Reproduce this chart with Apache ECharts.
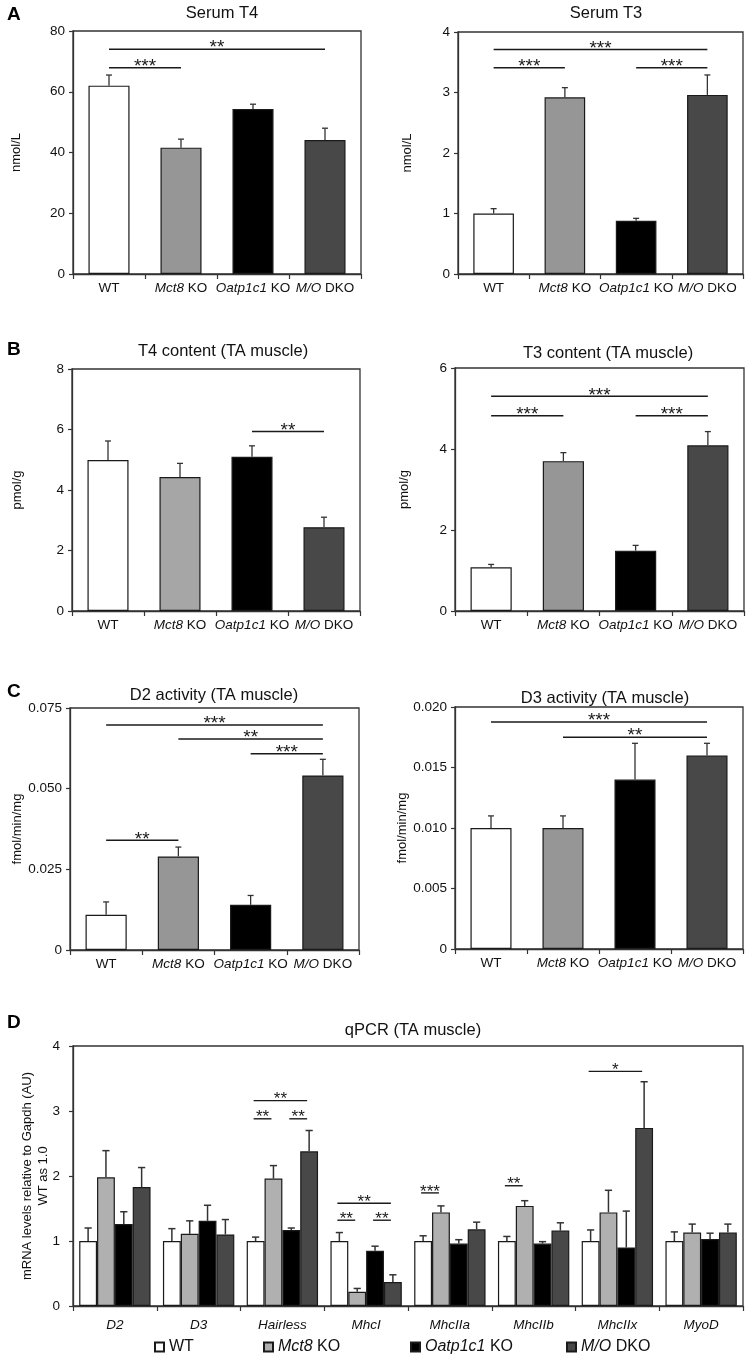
<!DOCTYPE html>
<html><head><meta charset="utf-8">
<script src="https://cdn.jsdelivr.net/npm/echarts@6/dist/echarts.min.js"></script>
<style>html,body{margin:0;padding:0;background:#fff}#c{width:747px;height:1365px}</style>
</head><body><div id="c"></div>
<script>
// ---------- data ----------
const CATS = ['WT', 'Mct8 KO', 'Oatp1c1 KO', 'M/O DKO'];

const serumT4 = [62.0, 41.6, 54.3, 44.1];
const serumT4Err = [65.5, 44.4, 55.9, 48.0];
const serumT4Sig = [[0, 1, 67.9, '***'], [0, 3, 74.0, '**']];

const serumT3 = [1.00, 2.92, 0.88, 2.96];
const serumT3Err = [1.08, 3.08, 0.92, 3.29];
const serumT3Sig = [[0, 3, 3.71, '***'], [0, 1, 3.41, '***'], [2, 3, 3.41, '***']];

const t4Content = [4.99, 4.43, 5.10, 2.77];
const t4ContentErr = [5.62, 4.88, 5.46, 3.10];
const t4ContentSig = [[2, 3, 5.93, '**']];

const t3Content = [1.08, 3.70, 1.49, 4.09];
const t3ContentErr = [1.15, 3.91, 1.62, 4.43];
const t3ContentSig = [[0, 3, 5.30, '***'], [0, 1, 4.82, '***'], [2, 3, 4.82, '***']];

const d2Activity = [0.0109, 0.0290, 0.0140, 0.0541];
const d2ActivityErr = [0.0149, 0.0319, 0.0169, 0.0591];
const d2ActivitySig = [[0, 3, 0.0697, '***'], [1, 3, 0.0654, '**'], [2, 3, 0.0608, '***'], [0, 1, 0.0340, '**']];

const d3Activity = [0.0100, 0.0100, 0.0140, 0.0160];
const d3ActivityErr = [0.0110, 0.0110, 0.0170, 0.0170];
const d3ActivitySig = [[0, 3, 0.01876, '***'], [1, 3, 0.0175, '**']];

const GENES = ['D2', 'D3', 'Hairless', 'MhcI', 'MhcIIa', 'MhcIIb', 'MhcIIx', 'MyoD'];
const qWT      = [1.00, 1.00, 1.00, 1.00, 1.00, 1.00, 1.00, 1.00];
const qWTErr   = [1.20, 1.19, 1.06, 1.13, 1.08, 1.07, 1.17, 1.14];
const qMct8    = [1.98, 1.11, 1.96, 0.22, 1.44, 1.54, 1.44, 1.13];
const qMct8Err = [2.39, 1.31, 2.16, 0.27, 1.54, 1.62, 1.78, 1.26];
const qOatp    = [1.26, 1.31, 1.17, 0.85, 0.96, 0.96, 0.90, 1.03];
const qOatpErr = [1.45, 1.55, 1.20, 0.92, 1.02, 0.99, 1.46, 1.12];
const qDKO     = [1.83, 1.10, 2.38, 0.37, 1.18, 1.16, 2.74, 1.13];
const qDKOErr  = [2.13, 1.33, 2.70, 0.48, 1.29, 1.28, 3.45, 1.26];
// [gene index, bar a, bar b, y, label]
const qSig = [[2, 0, 3, 3.16, '**'], [2, 0, 1, 2.88, '**'], [2, 2, 3, 2.88, '**'],
              [3, 0, 3, 1.58, '**'], [3, 0, 1, 1.32, '**'], [3, 2, 3, 1.32, '**'],
              [4, 0, 1, 1.74, '***'], [5, 0, 1, 1.85, '**'], [6, 0, 3, 3.61, '*']];

// ---------- styles ----------
const FONT = '"Liberation Sans", Arial, Helvetica, sans-serif';
const INK = '#1a1a1a';
const AX = '#333';
const COLORS = ['#ffffff', '#969696', '#000000', '#484848'];
const COLORS_B = ['#ffffff', '#a6a6a6', '#000000', '#484848'];
const COLORS_D = ['#ffffff', '#b0b0b0', '#000000', '#484848'];

function catFmt(v) {
  const i = v.indexOf(' ');
  if (i < 0) return v;
  return '{i|' + v.slice(0, i) + '}' + v.slice(i);
}

const fmt0 = v => String(v);
const fmt3 = v => v === 0 ? '0' : v.toFixed(3);

const panels = [
  {grid: {left: 73, top: 31, width: 288, height: 243}, title: 'Serum T4', tx: 217, ty: 0, yName: 'nmol/L', nameGap: 50,
   max: 80, interval: 20, fmt: fmt0, vals: serumT4, errs: serumT4Err, sig: serumT4Sig, colors: COLORS},
  {grid: {left: 458, top: 32, width: 285, height: 242}, title: 'Serum T3', tx: 601, ty: 0, yName: 'nmol/L', nameGap: 44,
   max: 4, interval: 1, fmt: fmt0, vals: serumT3, errs: serumT3Err, sig: serumT3Sig, colors: COLORS},
  {grid: {left: 72, top: 369, width: 288, height: 242}, title: 'T4 content (TA muscle)', tx: 218, ty: 338, yName: 'pmol/g', nameGap: 48,
   max: 8, interval: 2, fmt: fmt0, vals: t4Content, errs: t4ContentErr, sig: t4ContentSig, colors: COLORS_B},
  {grid: {left: 455, top: 368, width: 289, height: 243}, title: 'T3 content (TA muscle)', tx: 603, ty: 340, yName: 'pmol/g', nameGap: 44,
   max: 6, interval: 2, fmt: fmt0, vals: t3Content, errs: t3ContentErr, sig: t3ContentSig, colors: COLORS},
  {grid: {left: 70, top: 708, width: 289, height: 242}, title: 'D2 activity (TA muscle)', tx: 209, ty: 682, yName: 'fmol/min/mg', nameGap: 46,
   max: 0.075, interval: 0.025, fmt: fmt3, vals: d2Activity, errs: d2ActivityErr, sig: d2ActivitySig, colors: COLORS},
  {grid: {left: 455, top: 707, width: 288, height: 242}, title: 'D3 activity (TA muscle)', tx: 600, ty: 685, yName: 'fmol/min/mg', nameGap: 46,
   max: 0.02, interval: 0.005, fmt: fmt3, vals: d3Activity, errs: d3ActivityErr, sig: d3ActivitySig, colors: COLORS}
];

const option = {
  animation: false,
  backgroundColor: '#fff',
  textStyle: {fontFamily: FONT},
  title: [], grid: [], xAxis: [], yAxis: [], series: [], legend: []
};

const letters = [['A', 0], ['B', 335], ['C', 677], ['D', 1008]];
letters.forEach(l => option.title.push({text: l[0], left: 2, top: l[1],
  textStyle: {fontSize: 19, fontWeight: 'bold', fontFamily: FONT, color: '#000'}}));

function gridCfg(g) {
  return Object.assign({show: true, borderColor: AX, borderWidth: 1.3, backgroundColor: 'transparent', containLabel: false}, g);
}

function errRender(offsetFrac, cap, lw) {
  return function (params, api) {
    const c = api.value(0), v = api.value(1), e = api.value(2);
    const band = api.size([1, 0])[0];
    const p0 = api.coord([c, v]);
    const p1 = api.coord([c, e]);
    const x = p0[0] + offsetFrac * band;
    return {type: 'group', children: [
      {type: 'line', shape: {x1: x, y1: p0[1], x2: x, y2: p1[1]}, style: {stroke: AX, lineWidth: lw}},
      {type: 'line', shape: {x1: x - cap, y1: p1[1], x2: x + cap, y2: p1[1]}, style: {stroke: AX, lineWidth: lw}}
    ]};
  };
}

function sigRender(getX, labelOf, fontSize, lw, gapText) {
  return function (params, api) {
    const ends = getX(params.dataIndex, api);
    const y = ends[2];
    return {type: 'group', children: [
      {type: 'line', shape: {x1: ends[0], y1: y, x2: ends[1], y2: y}, style: {stroke: INK, lineWidth: lw}},
      {type: 'text', x: (ends[0] + ends[1]) / 2, y: y - gapText,
       style: {text: labelOf(params.dataIndex), fill: INK, fontSize: fontSize, fontFamily: FONT,
               align: 'center', verticalAlign: 'middle', textAlign: 'center', textVerticalAlign: 'middle'}}
    ]};
  };
}

panels.forEach((p, i) => {
  option.title.push({text: p.title, left: p.tx, top: p.ty, textAlign: 'center',
    textStyle: {fontSize: 16.5, fontWeight: 'normal', fontFamily: FONT, color: '#111'}});
  option.grid.push(gridCfg(p.grid));
  option.xAxis.push({gridIndex: i, type: 'category', data: CATS,
    axisLine: {lineStyle: {color: AX, width: 1.3}},
    axisTick: {show: true, length: 5, lineStyle: {color: AX, width: 1.2}},
    axisLabel: {interval: 0, margin: 7, fontSize: 13.5, color: '#111', fontFamily: FONT, formatter: catFmt,
      rich: {i: {fontStyle: 'italic', fontSize: 13.5, color: '#111', fontFamily: FONT}}}});
  option.yAxis.push({gridIndex: i, type: 'value', min: 0, max: p.max, interval: p.interval,
    splitLine: {show: false},
    axisLine: {show: true, lineStyle: {color: AX, width: 1.3}},
    axisTick: {show: true, length: 4, lineStyle: {color: AX, width: 1.2}},
    axisLabel: {margin: 8, fontSize: 13.5, color: '#111', fontFamily: FONT, formatter: p.fmt},
    name: p.yName, nameLocation: 'middle', nameGap: p.nameGap,
    nameTextStyle: {fontSize: 13, color: '#111', fontFamily: FONT}});
  option.series.push({type: 'bar', name: p.title, xAxisIndex: i, yAxisIndex: i, barWidth: '57%', silent: true,
    itemStyle: {borderColor: INK, borderWidth: 1.2},
    data: p.vals.map((v, j) => ({value: v, itemStyle: {color: p.colors[j]}}))});
  option.series.push({type: 'custom', xAxisIndex: i, yAxisIndex: i, silent: true, z: 5,
    encode: {x: 0, y: [1, 2]},
    renderItem: errRender(0, 3, 1.3),
    data: p.vals.map((v, j) => [j, v, p.errs[j]])});
  const sig = p.sig;
  option.series.push({type: 'custom', xAxisIndex: i, yAxisIndex: i, silent: true, z: 6,
    encode: {x: [0, 1], y: 2},
    renderItem: sigRender(function (k, api) {
      const a = api.coord([sig[k][0], sig[k][2]]);
      const b = api.coord([sig[k][1], sig[k][2]]);
      return [a[0], b[0], a[1]];
    }, k => sig[k][3], 19, 1.5, 1),
    data: sig.map(s => [s[0], s[1], s[2]])});
});

// ---------- panel D ----------
const di = panels.length;
const SERIES_NAMES = ['WT', 'Mct8 KO', 'Oatp1c1 KO', 'M/O DKO'];
const qVals = [qWT, qMct8, qOatp, qDKO];
const qErrs = [qWTErr, qMct8Err, qOatpErr, qDKOErr];
const BARF = 0.213;

option.title.push({text: 'qPCR (TA muscle)', left: 408, top: 1017, textAlign: 'center',
  textStyle: {fontSize: 16.5, fontWeight: 'normal', fontFamily: FONT, color: '#111'}});
option.grid.push(gridCfg({left: 73, top: 1046, width: 670, height: 260}));
option.xAxis.push({gridIndex: di, type: 'category', data: GENES,
  axisLine: {lineStyle: {color: AX, width: 1.3}},
  axisTick: {show: true, length: 5, lineStyle: {color: AX, width: 1.2}},
  axisLabel: {interval: 0, margin: 12, fontSize: 13.5, fontStyle: 'italic', color: '#111', fontFamily: FONT}});
option.yAxis.push({gridIndex: di, type: 'value', min: 0, max: 4, interval: 1,
  splitLine: {show: false},
  axisLine: {show: true, lineStyle: {color: AX, width: 1.3}},
  axisTick: {show: true, length: 4, lineStyle: {color: AX, width: 1.2}},
  axisLabel: {margin: 13, fontSize: 13.5, color: '#111', fontFamily: FONT},
  name: 'mRNA levels relative to Gapdh (AU)\nWT as 1.0', nameLocation: 'middle', nameGap: 22,
  nameMoveOverlap: false,
  nameTextStyle: {fontSize: 13, lineHeight: 16, color: '#111', fontFamily: FONT}});

qVals.forEach((vals, k) => {
  option.series.push({type: 'bar', name: SERIES_NAMES[k], xAxisIndex: di, yAxisIndex: di,
    barWidth: (BARF * 100) + '%', barGap: '0%', silent: true,
    itemStyle: {color: COLORS_D[k], borderColor: INK, borderWidth: 1.2},
    data: vals});
});
qVals.forEach((vals, k) => {
  option.series.push({type: 'custom', xAxisIndex: di, yAxisIndex: di, silent: true, z: 5,
    encode: {x: 0, y: [1, 2]},
    renderItem: errRender((k - 1.5) * BARF, 3.6, 1.5),
    data: vals.map((v, j) => [j, v, qErrs[k][j]])});
});
option.series.push({type: 'custom', xAxisIndex: di, yAxisIndex: di, silent: true, z: 6,
  encode: {x: 0, y: 1},
  renderItem: sigRender(function (k, api) {
    const s = qSig[k];
    const band = api.size([1, 0])[0];
    const c = api.coord([s[0], s[3]]);
    return [c[0] + (s[1] - 1.5) * BARF * band - 2, c[0] + (s[2] - 1.5) * BARF * band - 2, c[1]];
  }, k => qSig[k][4], 17, 1.4, 1),
  data: qSig.map(s => [s[0], s[3]])});

// legends
const legendLeft = [154, 263, 410, 566];
SERIES_NAMES.forEach((n, k) => {
  option.legend.push({data: [n], left: legendLeft[k], top: 1339, padding: 0, selectedMode: false,
    icon: 'rect', itemWidth: 9, itemHeight: 9,
    formatter: catFmt,
    textStyle: {fontSize: 16, color: '#111', fontFamily: FONT,
      rich: {i: {fontStyle: 'italic', fontSize: 16, color: '#111', fontFamily: FONT}}}});
});

const chart = echarts.init(document.getElementById('c'), null, {renderer: 'canvas'});
chart.setOption(option);
</script>
</body></html>
